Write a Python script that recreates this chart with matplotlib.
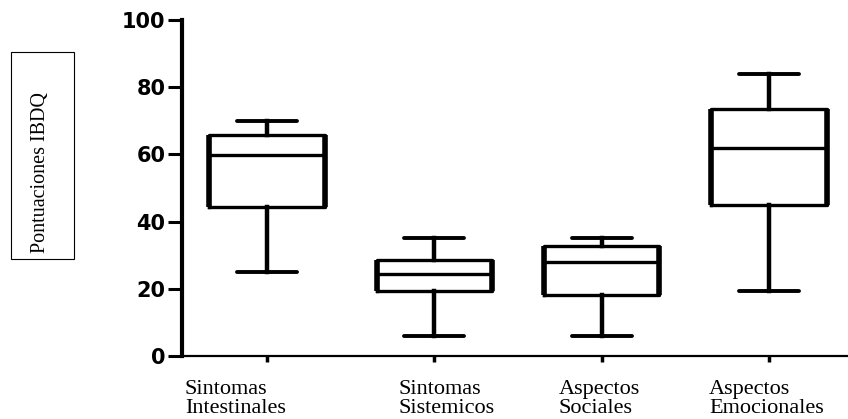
import matplotlib
matplotlib.use("Agg")
import matplotlib.pyplot as plt
from matplotlib.patches import Rectangle

categories = ["Sintomas\nIntestinales", "Sintomas\nSistemicos", "Aspectos\nSociales", "Aspectos\nEmocionales"]
whisker_low = [25, 6, 6, 19.3]
q1 = [44.3, 19.4, 18.2, 44.9]
median = [59.8, 24.4, 27.9, 61.8]
q3 = [65.8, 28.6, 32.7, 73.5]
whisker_high = [69.8, 35, 35, 83.8]
y_ticks = [0, 20, 40, 60, 80, 100]
y_label = "Pontuaciones IBDQ"

W, H = 848, 419
fig = plt.figure(figsize=(W / 100, H / 100), dpi=100)
ax = fig.add_axes([182 / W, 63 / H, 1 - 182 / W, 336 / H])

positions = list(range(1, len(categories) + 1))
box_w = 0.69
cap_w = 0.36
stats = []
for i in range(len(categories)):
    stats.append(dict(whislo=whisker_low[i], q1=q1[i], med=median[i], q3=q3[i],
                      whishi=whisker_high[i], fliers=[]))

ax.bxp(stats, positions=positions, widths=box_w, capwidths=cap_w, showfliers=False,
       boxprops=dict(color="black", linewidth=2.4),
       medianprops=dict(color="black", linewidth=2.4),
       whiskerprops=dict(color="black", linewidth=3.2),
       capprops=dict(color="black", linewidth=2.8, solid_capstyle="round"),
       manage_ticks=False)
# thicker vertical box sides
for p, a, b in zip(positions, q1, q3):
    ax.vlines([p - box_w / 2, p + box_w / 2], a, b, colors="black", linewidth=4.0)

ax.set_xlim(0.492, 4.472)
ax.set_ylim(0, 100)
ax.spines["top"].set_visible(False)
ax.spines["right"].set_visible(False)
ax.spines["left"].set_linewidth(3.0)
ax.spines["bottom"].set_linewidth(1.6)

ax.set_yticks(y_ticks)
ax.set_yticklabels([str(t) for t in y_ticks], fontsize=15, fontweight="heavy",
                   family="DejaVu Sans")
ax.tick_params(axis="y", length=10, width=2.2, pad=2)
ax.set_xticks(positions)
ax.set_xticklabels([])
ax.tick_params(axis="x", length=4, width=2.5, direction="out")

label_x = [185 / W, 398 / W, 559 / W, 709 / W]
for lx, name in zip(label_x, categories):
    fig.text(lx, (H - 380) / H, name, ha="left", va="top", fontsize=16,
             family="Liberation Serif", linespacing=0.98, multialignment="left")

# boxed y label
fig.patches.append(Rectangle((11 / W, (H - 259) / H), 63 / W, 207 / H,
                             transform=fig.transFigure, fill=False,
                             edgecolor="black", linewidth=0.8))
fig.text(41 / W, (H - 253) / H, y_label, rotation=90, ha="center", va="bottom",
         fontsize=14.5, family="Liberation Serif")

fig.savefig("out.png", dpi=100)
